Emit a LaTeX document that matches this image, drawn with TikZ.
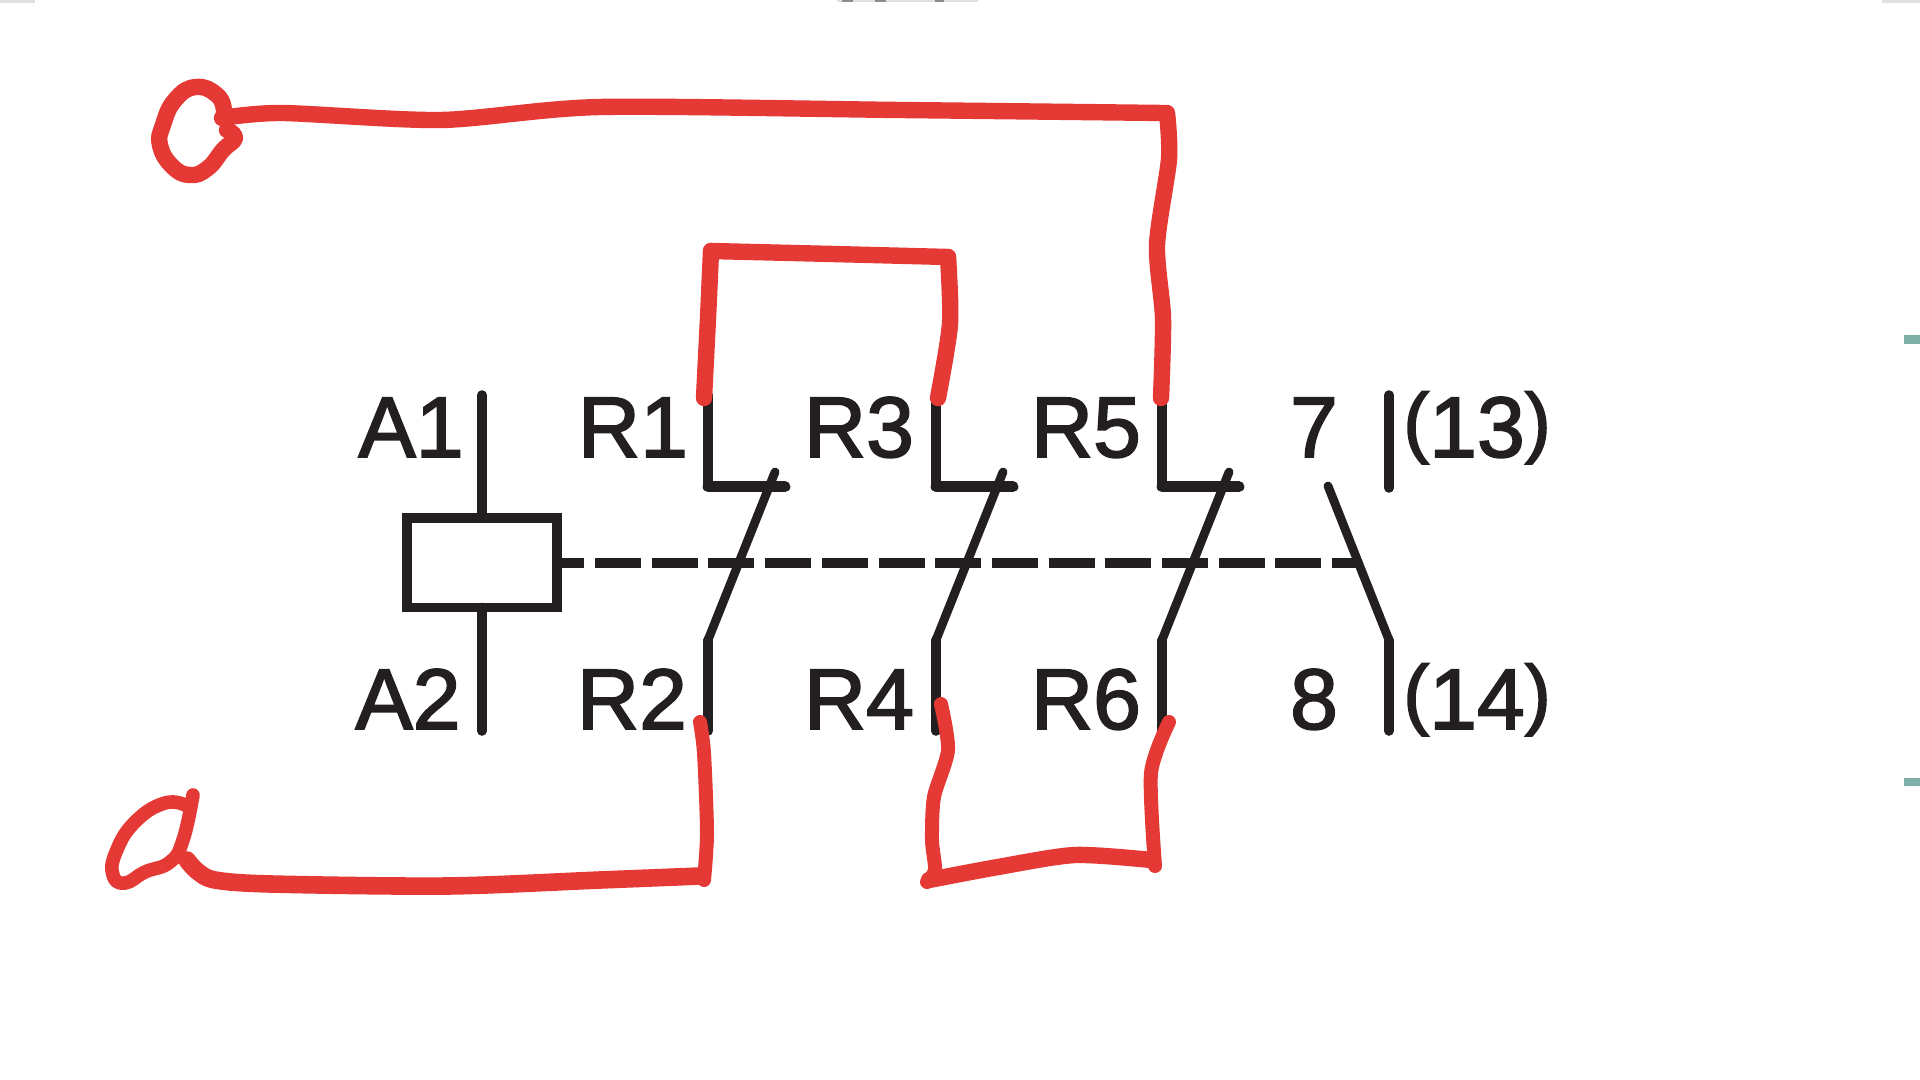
\documentclass[tikz,border=0pt]{standalone}
\usepackage{fontspec}
\setmainfont[FakeBold=2]{Liberation Sans}
\definecolor{inkblack}{HTML}{231F20}
\definecolor{penred}{HTML}{E53935}
\definecolor{edgeteal}{HTML}{7FB0A8}
\newcommand{\parbit}[1]{\raisebox{4.5pt}{\fontsize{39}{44}\selectfont #1}}
\tikzset{
  wire/.style={draw=inkblack,line width=4.8pt,line cap=round,line join=miter},
  shelf/.style={draw=inkblack,line width=5.4pt,line cap=round,line join=miter},
  blade/.style={draw=inkblack,line width=4.4pt,line cap=round,line join=round},
  linkdash/.style={draw=inkblack,line width=5pt,dash pattern=on 23pt off 5.35pt,dash phase=9.35pt},
  coilbox/.style={draw=inkblack,line width=4.8pt,minimum width=75pt,minimum height=44.75pt},
  lab/.style={text=inkblack,anchor=base,font=\fontsize{43}{50}\selectfont},
  pen/.style={draw=penred,line width=8.2pt,line cap=round,line join=round},
  scrap/.style={fill=#1,draw=none},
}
\begin{document}
\begin{tikzpicture}[y=0.5pt, x=0.5pt, yscale=-1, inner sep=0pt, outer sep=0pt]
  \useasboundingbox (0,0) rectangle (1920,1080);

  % scraps at the edges
  \path[scrap=black!12] (837,0) rectangle (978,2);
  \path[scrap=black!45] (842,0) rectangle (853,2);
  \path[scrap=black!45] (875,0) rectangle (886,2);
  \path[scrap=black!45] (935,0) rectangle (944,2);
  \path[scrap=black!12] (0,0) rectangle (35,3);
  \path[scrap=black!12] (1882,0) rectangle (1920,3);
  \path[scrap=edgeteal] (1904,335) rectangle (1920,344);
  \path[scrap=edgeteal] (1904,778) rectangle (1920,786);

  % coil
  \node[coilbox] (coil) at (482,562.7) {};
  \coordinate (A1) at (482,395);
  \coordinate (A2) at (482,731);
  \draw[wire] (A1) -- (coil.north);
  \draw[wire] (coil.south) -- (A2);

  % first contact
  \coordinate (R1) at (708,395);
  \coordinate (R1s) at (708,486.7);
  \coordinate (R1e) at (785,486.7);
  \coordinate (R1b) at (708,640);
  \coordinate (R1t) at (775,472);
  \coordinate (R2) at (708,731);
  \draw[shelf] (R1e) -- (R1s);
  \draw[wire] (R1) -- (R1s);
  \draw[blade] (R1t) -- (R1b);
  \draw[wire] (R1b) -- (R2);

  % second contact
  \coordinate (R3) at (936,395);
  \coordinate (R3s) at (936,486.7);
  \coordinate (R3e) at (1013,486.7);
  \coordinate (R3b) at (936,640);
  \coordinate (R3t) at (1003,472);
  \coordinate (R4) at (936,731);
  \draw[shelf] (R3e) -- (R3s);
  \draw[wire] (R3) -- (R3s);
  \draw[blade] (R3t) -- (R3b);
  \draw[wire] (R3b) -- (R4);

  % third contact
  \coordinate (R5) at (1162,395);
  \coordinate (R5s) at (1162,486.7);
  \coordinate (R5e) at (1239,486.7);
  \coordinate (R5b) at (1162,640);
  \coordinate (R5t) at (1229,472);
  \coordinate (R6) at (1162,731);
  \draw[shelf] (R5e) -- (R5s);
  \draw[wire] (R5) -- (R5s);
  \draw[blade] (R5t) -- (R5b);
  \draw[wire] (R5b) -- (R6);

  % open contact
  \coordinate (N7) at (1389,395);
  \coordinate (N7e) at (1389,488);
  \coordinate (N8b) at (1389,640);
  \coordinate (N8t) at (1328,486);
  \coordinate (N8) at (1389,731);
  \coordinate (linkend) at (1358,562.7);
  \draw[wire] (N7) -- (N7e);
  \draw[blade] (N8t) -- (N8b);
  \draw[wire] (N8b) -- (N8);

  % mechanical link
  \draw[linkdash] (coil.east) -- (linkend);

  % labels
  \node[lab] (labA1) at (411,457) {A1};
  \node[lab] (labA2) at (408,729) {A2};
  \node[lab] (labR1) at (633,457) {R1};
  \node[lab] (labR2) at (632,729) {R2};
  \node[lab] (labR3) at (859,457) {R3};
  \node[lab] (labR4) at (859,729) {R4};
  \node[lab] (labR5) at (1086,457) {R5};
  \node[lab] (labR6) at (1086,729) {R6};
  \node[lab] (lab7) at (1314,457) {7};
  \node[lab] (lab8) at (1314,729) {8};
  \node[lab] (lab13) at (1477,457) {\parbit{(}13\parbit{)}};
  \node[lab] (lab14) at (1477,729) {\parbit{(}14\parbit{)}};

  % upper pen loop
  \draw[pen] plot[smooth,tension=0.8] coordinates {(224,112) (218,96) (196,87) (175,100) (163,125) (160,145) (172,166) (190,175) (208,168) (223,150) (235,138) (227,130)};
  \draw[pen] plot[smooth,tension=0.45] coordinates {(222,118) (282,113) (441,120) (600,107) (900,110) (1163,113)};
  \draw[pen] plot[smooth,tension=0.45] coordinates {(1167,113) (1169,159) (1157,245) (1163,318) (1161,398)};

  % R1 to R3
  \draw[pen] plot[smooth,tension=0.45] coordinates {(704,398) (708,318) (711,251)};
  \draw[pen] (711,251) -- (833,254) -- (948,257);
  \draw[pen] plot[smooth,tension=0.45] coordinates {(948,257) (950,324) (938,398)};

  % lower pen loop
  \draw[pen,line width=7pt] plot[smooth,tension=0.45] coordinates {(700,722) (704,753) (707,833) (704,880)};
  \draw[pen,line width=8.8pt] plot[smooth,tension=0.5] coordinates {(700,876) (600,880) (447,886) (271,884) (215,880) (197,871) (187,860)};
  \draw[pen,line width=6.8pt] plot[smooth,tension=0.8] coordinates {(187,806) (165,803) (135,822) (116,852) (113,875) (125,883) (145,872) (170,862) (183,840) (193,795)};

  % R4 to R6
  \draw[pen,line width=7pt] plot[smooth,tension=0.45] coordinates {(941,704) (948,750) (934,797) (932,840) (935,870) (927,882)};
  \draw[pen] plot[smooth,tension=0.45] coordinates {(929,880) (998,867) (1075,855) (1151,860)};
  \draw[pen,line width=7pt] plot[smooth,tension=0.45] coordinates {(1155,866) (1151,773) (1169,722)};
\end{tikzpicture}
\end{document}
